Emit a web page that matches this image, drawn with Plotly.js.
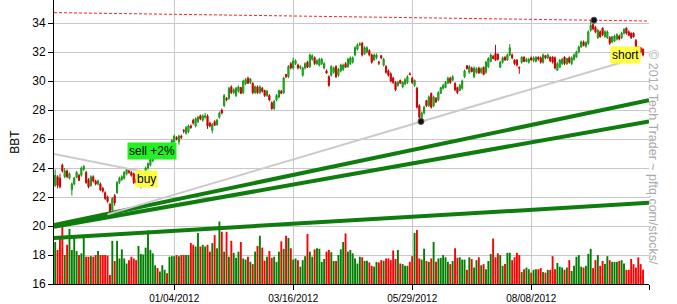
<!DOCTYPE html>
<html><head><meta charset="utf-8">
<script src="https://cdn.plot.ly/plotly-3.0.1.min.js"></script>
<style>html,body{margin:0;padding:0;background:#fff}#chart{width:677px;height:304px}</style>
</head><body><div id="chart"></div>
<script>
const tickVals = [50, 100, 150, 200, 249.5];
const tickLabels = ['01/04/2012', '03/16/2012', '05/29/2012', '08/08/2012', ''];

const openP = [22.8,23.4,23.3,24.2,23.4,23.8,23.3,22.5,22.9,23.35,23.5,23.5,23.9,23.7,23.2,22.8,23.4,23.1,22.9,22.9,
22.6,22.3,22.0,21.5,21.1,22.1,22.3,23.0,23.2,23.3,23.6,23.8,23.7,23.6,23.2,23.0,22.7,23.0,23.6,24.0,
24.2,24.5,24.7,25.0,24.9,25.2,25.3,25.4,25.4,25.6,25.8,26.1,25.8,26.2,26.6,26.4,26.5,26.9,27.3,26.9,
27.2,27.6,27.3,27.5,27.6,27.1,26.6,27.2,27.0,27.5,28.0,28.3,28.8,28.8,29.6,29.2,29.0,29.3,29.55,29.2,
29.8,30.2,29.9,29.85,29.2,29.6,29.2,29.5,29.35,29.0,29.0,28.5,28.1,28.7,28.9,29.3,29.2,30.45,30.3,31.2,
30.9,31.2,31.1,30.9,30.4,30.9,31.3,31.0,31.5,31.6,31.2,31.1,31.2,30.9,30.7,30.3,30.4,30.6,31.0,30.4,
30.7,30.8,31.2,31.0,31.2,31.3,31.8,32.2,32.5,32.6,31.9,32.0,32.1,31.8,31.45,31.6,31.3,31.75,31.1,31.0,
30.7,30.5,30.2,29.9,29.7,30.05,29.6,29.8,29.9,30.5,30.2,29.7,29.5,28.3,27.4,27.8,28.65,28.3,29.15,28.3,
28.8,28.7,29.15,29.5,29.55,29.85,30.2,30.05,29.85,29.55,29.35,29.5,30.3,31.05,30.6,30.9,30.3,30.6,30.9,30.6,
30.95,30.6,31.0,31.35,31.7,31.9,31.85,30.95,31.3,31.65,31.45,31.8,31.8,31.45,31.45,30.95,31.3,31.65,31.35,31.3,
31.6,31.4,31.35,31.65,31.6,31.3,31.75,31.6,31.65,31.65,31.6,30.75,30.95,31.2,31.65,31.2,31.6,31.2,31.5,31.65,
32.0,32.35,32.7,32.4,32.6,33.5,33.9,33.7,33.0,33.4,33.65,33.05,33.0,33.0,32.7,32.75,32.9,33.1,33.0,33.3,
33.65,33.4,33.3,33.3,32.8,32.35,32.3,32.2];
const highP = [23.9,23.5,23.6,24.3,24.0,23.9,23.7,23.0,23.4,23.8,23.6,24.1,24.2,23.8,23.3,23.5,23.5,23.2,23.2,23.0,
22.7,22.4,22.1,21.6,22.0,22.2,23.1,23.4,23.5,23.8,24.0,23.9,23.8,23.7,23.3,23.2,23.1,23.3,24.1,24.4,
24.7,24.9,25.1,25.1,25.3,25.4,25.6,25.5,25.7,26.0,26.3,26.2,26.3,26.3,26.7,26.9,27.0,27.0,27.4,27.5,
27.6,27.7,27.7,27.8,27.7,27.2,27.1,27.3,27.4,27.9,28.1,29.1,28.9,29.6,29.7,29.5,29.6,29.7,29.6,30.1,
30.2,30.3,30.2,29.9,29.7,29.7,29.7,29.6,29.4,29.4,29.1,28.6,28.7,29.1,29.4,29.4,30.3,30.5,31.1,31.3,
31.6,31.5,31.2,31.1,31.0,31.3,31.4,31.9,31.85,31.7,31.5,31.6,31.6,31.3,30.8,30.4,31.1,31.0,31.1,30.9,
31.2,31.2,31.3,31.6,31.7,31.7,32.4,32.6,32.7,32.7,32.4,32.4,32.2,31.9,31.9,31.9,31.4,31.8,31.6,31.1,
30.8,30.6,30.3,30.0,30.0,30.1,30.0,30.2,30.4,30.6,30.3,30.1,29.6,28.4,27.9,28.3,28.7,29.0,29.2,29.0,
28.9,29.3,29.6,29.8,30.0,30.3,30.3,30.4,29.9,29.6,29.8,30.1,30.8,31.1,31.1,31.0,31.0,30.95,31.0,30.95,
31.0,31.4,31.65,31.9,31.8,32.5,31.9,31.4,31.7,31.7,31.9,32.55,31.9,31.5,31.5,31.0,31.7,31.7,31.6,31.6,
31.7,31.7,31.7,31.7,31.7,31.9,31.8,31.9,31.7,31.7,31.7,31.3,31.5,31.6,31.7,31.6,31.7,31.7,31.9,32.1,
32.45,32.8,32.8,32.75,33.5,34.2,34.0,33.8,33.6,33.5,33.7,33.5,33.5,33.1,33.1,33.2,33.3,33.2,33.4,33.65,
33.7,33.5,33.35,33.35,32.9,32.4,32.35,32.25];
const lowP = [22.7,22.6,22.6,23.7,23.3,23.3,23.2,22.1,22.8,23.3,23.1,23.4,23.8,22.9,22.6,22.7,23.0,22.8,22.8,22.4,
22.3,21.8,21.6,20.85,21.0,21.4,22.2,22.9,23.1,23.2,23.5,23.6,23.4,22.9,22.9,22.9,22.6,22.9,23.5,23.9,
24.1,24.4,24.6,24.8,24.8,25.1,25.2,25.2,25.3,25.5,25.7,25.9,25.6,26.0,26.4,26.3,26.4,26.7,27.0,26.8,
27.1,27.3,27.2,27.4,26.7,26.8,26.4,26.9,26.9,27.4,27.7,28.2,28.6,28.7,29.1,29.1,28.9,29.2,29.1,29.1,
29.7,29.8,29.8,29.1,29.1,29.1,29.1,29.2,28.9,28.9,28.6,28.0,28.0,28.6,28.8,29.1,29.1,30.2,30.2,30.8,
30.8,31.1,30.8,30.8,30.3,30.8,30.9,30.9,31.4,31.1,31.1,31.0,31.1,30.8,30.5,29.6,30.3,30.5,30.2,30.3,
30.6,30.7,30.9,30.9,31.1,31.2,31.7,32.1,32.4,31.7,31.8,31.9,31.7,31.2,31.4,31.5,31.1,31.5,31.0,30.5,
30.3,29.9,29.8,29.3,29.6,29.8,29.5,29.7,29.8,30.4,29.8,29.6,28.1,27.2,27.3,27.7,28.2,28.2,28.1,28.2,
28.5,28.6,29.1,29.4,29.5,29.8,29.8,30.0,29.3,29.1,29.3,29.4,30.2,30.8,30.5,30.6,30.2,30.5,30.5,30.5,
30.4,30.5,30.9,31.3,31.5,31.4,31.4,30.9,31.2,31.4,31.4,31.7,31.5,31.1,31.0,30.5,31.2,31.3,31.3,31.2,
31.4,31.3,31.3,31.4,31.2,31.2,31.5,31.5,31.3,31.2,30.8,30.7,30.9,31.1,31.1,31.1,31.2,31.1,31.4,31.6,
31.9,32.3,32.4,32.3,32.5,33.4,33.5,33.3,32.9,33.0,33.1,33.0,32.9,32.5,32.6,32.7,32.8,32.8,32.9,33.2,
33.2,33.1,32.9,33.0,32.3,32.0,31.9,31.7];
const closeP = [23.5,22.8,22.7,23.8,23.8,23.4,23.6,22.9,23.3,23.7,23.15,24.0,24.1,23.0,22.7,23.4,23.1,22.9,23.1,22.5,
22.4,21.9,21.7,21.0,21.9,21.6,23.0,23.3,23.4,23.7,23.9,23.7,23.5,23.0,23.0,23.1,23.0,23.2,24.0,24.3,
24.6,24.8,25.0,24.9,25.2,25.3,25.5,25.3,25.6,25.9,26.2,26.0,26.2,26.1,26.55,26.8,26.9,26.8,27.1,27.4,
27.5,27.4,27.6,27.6,26.9,26.9,27.0,26.95,27.3,27.8,27.8,29.0,28.7,29.5,29.2,29.4,29.5,29.6,29.15,30.0,
30.1,29.85,30.15,29.2,29.6,29.2,29.6,29.3,29.0,29.3,28.7,28.1,28.6,29.0,29.35,29.15,30.2,30.3,31.0,30.9,
31.4,31.4,30.9,31.0,30.9,31.2,30.95,31.8,31.75,31.2,31.4,31.5,31.5,31.2,30.55,29.7,31.0,30.9,30.3,30.8,
31.1,31.1,30.95,31.5,31.6,31.6,32.3,32.5,32.55,31.8,32.3,32.3,31.8,31.3,31.8,31.8,31.25,31.6,31.5,30.6,
30.4,30.0,29.9,29.4,29.9,29.85,29.9,30.1,30.3,30.45,29.9,30.05,28.2,27.5,27.8,28.2,28.3,28.9,28.2,28.9,
28.55,29.2,29.55,29.7,29.9,30.2,29.9,30.3,29.4,29.2,29.7,30.0,30.7,30.85,31.0,30.65,30.9,30.85,30.55,30.85,
30.45,31.3,31.55,31.8,31.55,31.45,31.5,31.3,31.6,31.45,31.8,32.3,31.6,31.2,31.1,30.9,31.65,31.35,31.5,31.5,
31.45,31.6,31.65,31.5,31.3,31.8,31.6,31.8,31.4,31.3,30.9,31.2,31.45,31.5,31.2,31.55,31.3,31.6,31.8,32.0,
32.35,32.7,32.45,32.65,33.4,33.85,33.6,33.4,33.5,33.05,33.2,33.4,33.4,32.6,33.05,33.1,33.2,32.9,33.3,33.55,
33.3,33.15,33.0,33.05,32.35,32.05,32.0,31.8];
const volumeM = [7.4,6.0,8.2,10.7,5.1,6.9,9.7,6.0,8.2,5.8,5.1,5.4,8.1,4.8,4.8,4.9,4.8,5.1,5.8,5.1,
5.1,5.1,5.0,1.6,7.6,4.05,7.6,4.5,6.1,4.5,3.6,4.2,4.8,4.5,4.2,6.7,5.3,5.2,6.4,9.4,
6.0,5.4,3.3,2.8,2.2,3.3,2.5,1.9,4.8,4.9,4.9,5.1,4.9,5.1,5.1,5.1,5.1,7.2,6.9,6.6,
9.0,6.6,6.9,6.6,6.9,5.7,7.2,8.6,6.3,11.0,9.2,5.7,9.2,4.8,
7.6,5.5,4.6,5.7,7.4,4.5,4.3,4.8,3.9,3.5,5.7,6.7,8.5,6.4,4.1,4.8,5.8,4.6,4.8,3.9,
5.7,7.5,6.2,8.5,8.1,6.3,4.3,4.5,4.2,3.05,4.2,4.9,8.8,5.7,4.8,6.1,6.3,6.2,3.9,4.4,
5.7,6.0,5.6,4.05,4.05,5.1,6.1,7.4,8.9,5.7,6.0,5.4,4.5,3.6,4.8,4.7,4.05,4.1,3.8,3.2,
3.05,3.9,3.8,4.2,4.1,4.5,4.5,4.2,5.9,4.4,6.0,3.6,3.5,3.2,3.2,3.9,4.9,9.0,9.5,4.5,
4.3,6.2,4.05,3.9,4.5,7.4,3.9,4.5,4.6,5.1,4.7,3.9,
3.5,4.05,6.3,4.6,4.7,4.3,4.3,2.5,4.7,4.4,2.9,4.2,4.7,3.3,3.5,2.6,4.05,5.3,8.0,4.7,
5.4,5.1,3.2,3.5,5.5,5.5,4.2,4.7,5.5,5.1,2.1,2.6,2.9,2.6,2.0,2.5,2.6,2.6,2.8,2.1,
2.0,2.5,2.5,4.9,2.6,3.7,3.05,2.9,2.5,2.9,4.2,2.3,3.2,4.8,5.1,3.05,2.9,3.2,5.3,6.2,
2.8,4.2,5.1,3.2,4.05,3.5,4.9,4.2,3.9,3.9,3.9,4.05,4.2,3.6,2.5,2.5,4.4,3.5,2.9,4.7,
3.5,2.5];

const lineX = [-0.5, 249.5];
const resistanceY = [34.72, 34.14];
const greenUpperY = [20.07, 28.67];
const greenMidY = [19.94, 27.21];
const greenLowY = [19.18, 21.6];
const sellLineX = [-0.5, 37];
const sellLineY = [24.97, 23.75];
const supportX = [22, 246];
const supportY = [20.8, 31.68];
const dotX = [153.7, 226.4];
const dotY = [27.21, 34.2];

const idx = closeP.map((_, i) => i);
const volColors = closeP.map((c, i) => c >= openP[i] ? '#008000' : '#ff0000');

const FONT = 'Arial, "Liberation Sans", sans-serif';

const traces = [
  {type:'bar', x: idx, y: volumeM, yaxis:'y', marker:{color: volColors, line:{width:0}}, hoverinfo:'skip'},
  {type:'scatter', mode:'lines', x: lineX, y: greenLowY, yaxis:'y2', line:{color:'#0e7d0e', width:4}, hoverinfo:'skip'},
  {type:'scatter', mode:'lines', x: lineX, y: greenMidY, yaxis:'y2', line:{color:'#0e7d0e', width:4}, hoverinfo:'skip'},
  {type:'scatter', mode:'lines', x: lineX, y: greenUpperY, yaxis:'y2', line:{color:'#0e7d0e', width:4}, hoverinfo:'skip'},
  {type:'scatter', mode:'lines', x: supportX, y: supportY, yaxis:'y2', line:{color:'#cfc8cc', width:2}, hoverinfo:'skip'},
  {type:'scatter', mode:'lines', x: sellLineX, y: sellLineY, yaxis:'y2', line:{color:'#cfc8cc', width:2}, hoverinfo:'skip'},
  {type:'scatter', mode:'lines', x: lineX, y: resistanceY, yaxis:'y2', line:{color:'#ff2020', width:1, dash:'3px,2px'}, hoverinfo:'skip'},
  {type:'candlestick', x: idx, open: openP, high: highP, low: lowP, close: closeP, yaxis:'y2',
    increasing:{line:{color:'#149414', width:1}, fillcolor:'#2ad62a'},
    decreasing:{line:{color:'#c80000', width:1}, fillcolor:'#d40000'},
    whiskerwidth:0, hoverinfo:'skip'},
  {type:'scatter', mode:'markers', x: dotX, y: dotY, yaxis:'y2', marker:{color:'#111', size:6, line:{color:'#555', width:1}}, hoverinfo:'skip'}
];

const layout = {
  width: 677, height: 304,
  margin: {l:54, r:28, t:0, b:20, pad:0},
  paper_bgcolor:'#ffffff', plot_bgcolor:'#ffffff',
  showlegend:false,
  font:{family: FONT, color:'#000', size:11},
  bargap: 0.2,
  xaxis: {
    range:[-0.5, 249.5], tickmode:'array', tickvals: tickVals, ticktext: tickLabels,
    ticks:'outside', ticklen:5, tickcolor:'#000', tickwidth:1,
    showline:true, linecolor:'#000', linewidth:1,
    showgrid:true, gridcolor:'#c8c8c8', gridwidth:1, zeroline:false,
    tickfont:{size:10, family: FONT, color:'#000'},
    rangeslider:{visible:false}, fixedrange:true
  },
  yaxis: {range:[0, 50], visible:false, fixedrange:true, showgrid:false},
  yaxis2: {
    overlaying:'y', side:'left', range:[16, 35.59], tick0:16, dtick:2,
    ticks:'outside', ticklen:5, tickcolor:'#000', tickwidth:1,
    showline:true, linecolor:'#000', linewidth:1,
    showgrid:true, gridcolor:'#c8c8c8', gridwidth:1, zeroline:false,
    tickfont:{size:12, family: FONT, color:'#000'},
    title:{text:'BBT', font:{size:12, family: FONT, color:'#000'}, standoff:10},
    fixedrange:true
  },
  annotations: [
    {x:40.7, y:25.17, xref:'x', yref:'y2', text:'sell +2%', showarrow:false, bgcolor:'#22f022', borderpad:1, font:{size:12, family:FONT, color:'#000'}},
    {x:38.4, y:23.23, xref:'x', yref:'y2', text:'buy', showarrow:false, bgcolor:'#ffff40', borderpad:1, font:{size:12, family:FONT, color:'#000'}},
    {x:239.6, y:31.82, xref:'x', yref:'y2', text:'short', showarrow:false, bgcolor:'#ffff40', borderpad:1, font:{size:12, family:FONT, color:'#000'}},
    {x:1.0215, y:0.444, xref:'paper', yref:'paper', text:'© 2012 Tech Trader ~ pftq.com/stocks/', textangle:90, showarrow:false, font:{size:12.5, family:FONT, color:'#aaaaaa'}}
  ]
};

Plotly.newPlot('chart', traces, layout, {staticPlot:true, displayModeBar:false});
</script></body></html>
